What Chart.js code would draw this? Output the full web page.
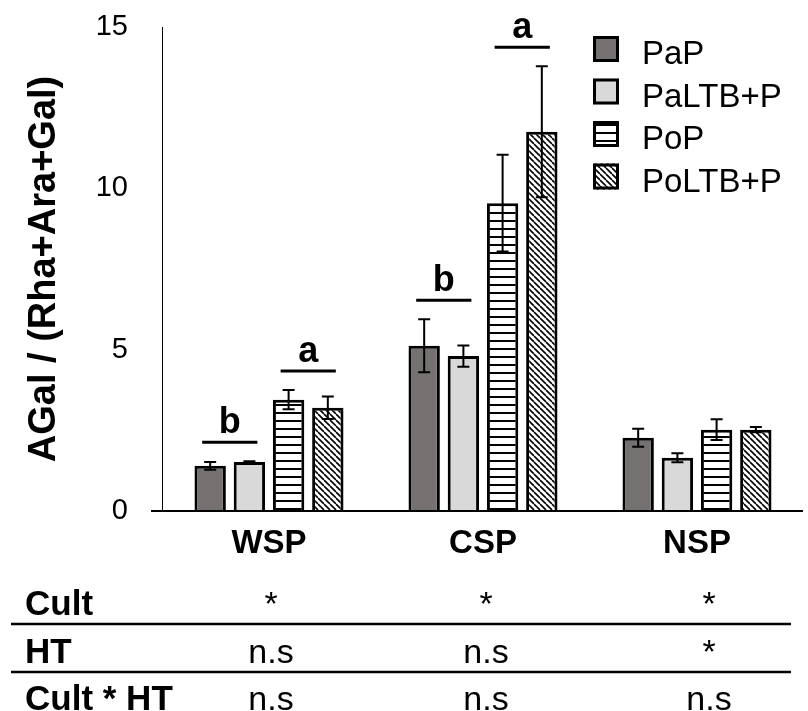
<!DOCTYPE html>
<html>
<head>
<meta charset="utf-8">
<script src="https://cdn.jsdelivr.net/npm/chart.js@4.4.0/dist/chart.umd.min.js"></script>
<style>
  html, body { margin: 0; padding: 0; background: #fff; }
</style>
</head>
<body>
<canvas id="chart" width="808" height="711"></canvas>
<script>
const fractions = ['WSP', 'CSP', 'NSP'];
const seriesNames = ['PaP', 'PaLTB+P', 'PoP', 'PoLTB+P'];

const papMean = [1.40, 5.12, 2.27];
const papErr = [0.12, 0.82, 0.28];
const paltbMean = [1.52, 4.80, 1.65];
const paltbErr = [0.02, 0.33, 0.14];
const popMean = [3.45, 9.54, 2.52];
const popErr = [0.30, 1.50, 0.32];
const poltbMean = [3.20, 11.75, 2.52];
const poltbErr = [0.35, 2.03, 0.08];

const yTicks = [0, 5, 10, 15];

// letters over pairs of bars
const sigLetters = ['b', 'a', 'b', 'a'];
const sigGroup = [0, 0, 1, 1];
const sigFirstSeries = [0, 2, 0, 2];

// two-way anova table below the chart
const tableRows = ['Cult', 'HT', 'Cult * HT'];
const cultRow = ['*', '*', '*'];
const htRow = ['n.s', 'n.s', '*'];
const cultHtRow = ['n.s', 'n.s', 'n.s'];

const FONT = "'Liberation Sans', Arial, sans-serif";

function stripePattern() {
  const c = document.createElement('canvas');
  c.width = 8; c.height = 8;
  const g = c.getContext('2d');
  g.fillStyle = '#fff'; g.fillRect(0, 0, 8, 8);
  g.fillStyle = '#000'; g.fillRect(0, 4, 8, 2);
  return g.createPattern(c, 'repeat');
}

function hatchPattern() {
  const s = 6;
  const c = document.createElement('canvas');
  c.width = s; c.height = s;
  const g = c.getContext('2d');
  g.fillStyle = '#fff'; g.fillRect(0, 0, s, s);
  g.strokeStyle = '#000'; g.lineWidth = 1.6;
  for (let k = -1; k <= 1; k++) {
    g.beginPath(); g.moveTo(k * s, 0); g.lineTo(k * s + s, s); g.stroke();
  }
  return g.createPattern(c, 'repeat');
}

const fills = ['#767171', '#d9d9d9', stripePattern(), hatchPattern()];
const means = [papMean, paltbMean, popMean, poltbMean];
const errs = [papErr, paltbErr, popErr, poltbErr];

const overlay = {
  id: 'overlay',
  afterDatasetsDraw(chart) {
    const ctx = chart.ctx;
    const ys = chart.scales.y;
    const area = chart.chartArea;
    ctx.save();
    // baseline, a bit past the value axis like the original
    const y0 = ys.getPixelForValue(0);
    ctx.strokeStyle = '#000';
    ctx.lineWidth = 2;
    ctx.beginPath(); ctx.moveTo(area.left - 11, y0); ctx.lineTo(area.right - 1, y0); ctx.stroke();

    // error bars
    chart.data.datasets.forEach((ds, i) => {
      chart.getDatasetMeta(i).data.forEach((bar, j) => {
        const t = ys.getPixelForValue(ds.data[j] + ds.err[j]);
        const b = ys.getPixelForValue(ds.data[j] - ds.err[j]);
        ctx.beginPath();
        ctx.moveTo(bar.x, t); ctx.lineTo(bar.x, b);
        ctx.moveTo(bar.x - 6, t); ctx.lineTo(bar.x + 6, t);
        ctx.moveTo(bar.x - 6, b); ctx.lineTo(bar.x + 6, b);
        ctx.stroke();
      });
    });

    // significance letters
    ctx.lineWidth = 3;
    ctx.fillStyle = '#000';
    ctx.font = 'bold 36px ' + FONT;
    ctx.textAlign = 'center';
    ctx.textBaseline = 'alphabetic';
    sigLetters.forEach((letter, k) => {
      const g = sigGroup[k], s = sigFirstSeries[k];
      const a = chart.getDatasetMeta(s).data[g];
      const b = chart.getDatasetMeta(s + 1).data[g];
      const topA = ys.getPixelForValue(means[s][g] + errs[s][g]);
      const topB = ys.getPixelForValue(means[s + 1][g] + errs[s + 1][g]);
      const ly = Math.min(topA, topB) - 19;
      ctx.beginPath(); ctx.moveTo(a.x - 8, ly); ctx.lineTo(b.x + 8, ly); ctx.stroke();
      ctx.fillText(letter, (a.x + b.x) / 2, ly - 9);
    });
    ctx.restore();
  },
  afterDraw(chart) {
    const ctx = chart.ctx;
    ctx.save();
    // legend
    ctx.font = '33px ' + FONT;
    ctx.textAlign = 'left';
    ctx.textBaseline = 'alphabetic';
    chart.data.datasets.forEach((ds, i) => {
      const bx = 593, by = 36 + i * 42.5;
      ctx.fillStyle = ds.backgroundColor;
      ctx.fillRect(bx, by, 26, 26);
      ctx.strokeStyle = '#000'; ctx.lineWidth = 3;
      ctx.strokeRect(bx + 1.5, by + 1.5, 23, 23);
      ctx.fillStyle = '#000';
      ctx.fillText(ds.label, 642, by + 28);
    });

    // table
    const cols = [271, 486, 709];
    const baselines = [615, 663, 710];
    const cells = [cultRow, htRow, cultHtRow];
    ctx.strokeStyle = '#000'; ctx.lineWidth = 2.5;
    [624, 672].forEach(ly => {
      ctx.beginPath(); ctx.moveTo(11, ly); ctx.lineTo(791, ly); ctx.stroke();
    });
    tableRows.forEach((label, r) => {
      ctx.font = 'bold 35px ' + FONT;
      ctx.textAlign = 'left';
      ctx.fillText(label, 25, baselines[r]);
      ctx.font = '34px ' + FONT;
      ctx.textAlign = 'center';
      cells[r].forEach((v, c) => ctx.fillText(v, cols[c], baselines[r]));
    });
    ctx.restore();
  }
};

new Chart(document.getElementById('chart'), {
  type: 'bar',
  data: {
    labels: fractions,
    datasets: seriesNames.map((name, i) => ({
      label: name,
      data: means[i],
      err: errs[i],
      backgroundColor: fills[i],
      borderColor: '#000',
      borderWidth: 3,
      borderSkipped: 'start',
      categoryPercentage: 0.733,
      barPercentage: 0.8
    }))
  },
  options: {
    responsive: false,
    animation: false,
    devicePixelRatio: 1,
    layout: { padding: { top: 27, right: 4, bottom: 0, left: 0 } },
    plugins: { legend: { display: false }, tooltip: { enabled: false } },
    scales: {
      x: {
        grid: { display: false, drawTicks: false },
        border: { display: false },
        ticks: { color: '#000', font: { family: FONT, size: 33, weight: 'bold' }, padding: 13 },
        afterFit: s => { s.height = 200; }
      },
      y: {
        min: 0,
        max: 15,
        afterBuildTicks: s => { s.ticks = yTicks.map(v => ({ value: v })); },
        // invisible tick marks push the labels away from the axis
        grid: { display: true, drawOnChartArea: false, drawTicks: true, tickLength: 34, color: 'rgba(0,0,0,0)' },
        border: { display: true, color: '#000', width: 1 },
        ticks: { color: '#000', font: { family: FONT, size: 29 }, padding: 0 },
        title: {
          display: true,
          text: 'AGal / (Rha+Ara+Gal)',
          color: '#000',
          font: { family: FONT, size: 38, weight: 'bold' },
          padding: { top: 22, bottom: 0 }
        },
        afterFit: s => { s.width = 162; }
      }
    }
  },
  plugins: [overlay]
});
</script>
</body>
</html>
